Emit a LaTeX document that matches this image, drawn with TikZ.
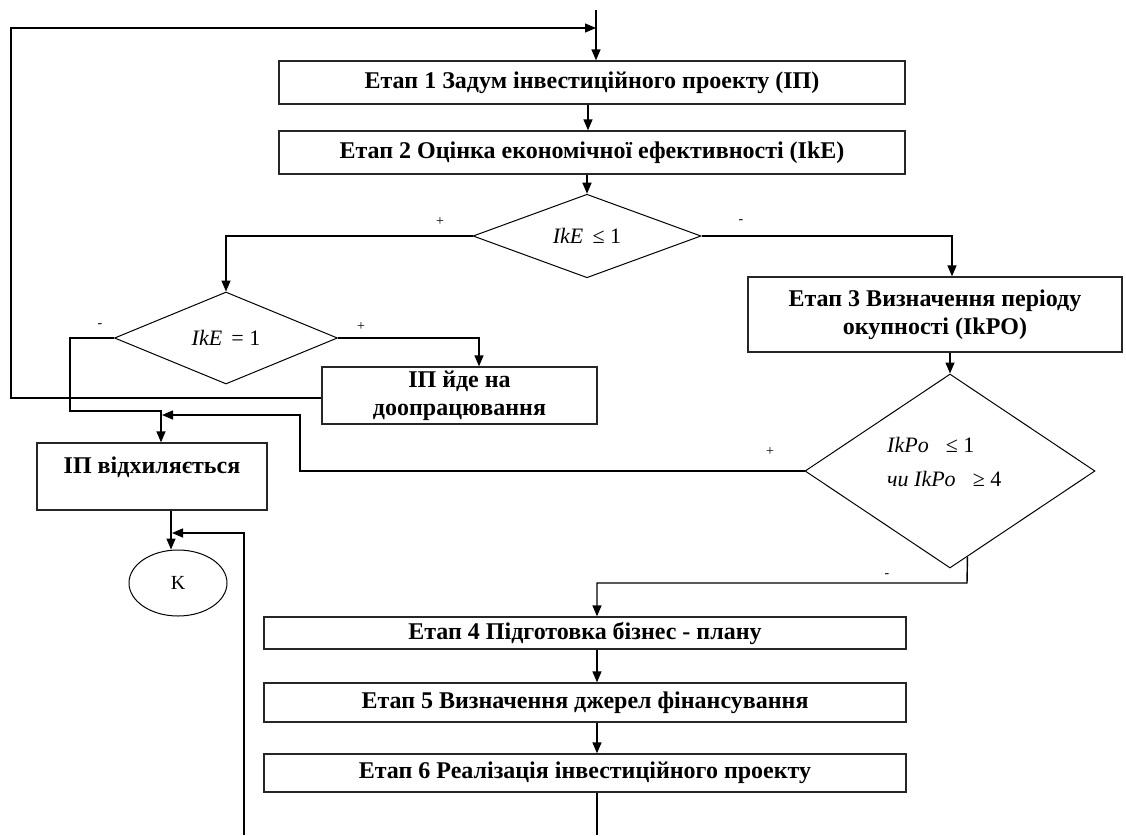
\documentclass[tikz,border=0pt]{standalone}
\usepackage{fontspec}
\setmainfont{Liberation Serif}
\usetikzlibrary{arrows.meta,shapes.geometric,calc}
\begin{document}
\begin{tikzpicture}[x=1pt,y=-1pt,
  box/.style={draw=black!85,line width=1.3pt,rectangle,inner sep=0pt,align=center},
  stagefont/.style={font=\fontsize{24}{27}\selectfont\bfseries},
  bigfont/.style={font=\fontsize{24}{28}\selectfont\bfseries},
  dia/.style={draw,line width=1pt,diamond,inner sep=0pt},
  conn/.style={line width=1.4pt},
  arr/.style={conn,-{Triangle[length=11pt,width=9pt]}},
  lbl/.style={font=\fontsize{14}{14}\selectfont,inner sep=0pt},
  mathfont/.style={font=\fontsize{22}{34}\selectfont}]
\useasboundingbox (0,0) rectangle (1126,835);

% stage boxes
\node[box,stagefont,minimum width=626pt,minimum height=43pt] (b1) at (592,82.5) {Етап 1 Задум інвестиційного проекту (ІП)};
\node[box,stagefont,minimum width=626pt,minimum height=43pt] (b2) at (592,152.5) {Етап 2 Оцінка економічної ефективності (IkE)};
\node[dia,mathfont,minimum width=228pt,minimum height=76pt] (d1) at (587,236) {\textit{IkE} \,≤ 1};
\node[dia,mathfont,minimum width=223pt,minimum height=92pt] (d2) at (226,338) {\textit{IkE} \,= 1};
\node[box,bigfont,minimum width=374pt,minimum height=75pt] (b3) at (935,314.5) {Етап 3 Визначення періоду\\окупності (IkPO)};
\node[box,bigfont,minimum width=275pt,minimum height=57pt] (b7) at (459.5,395.5) {ІП йде на\\доопрацювання};
\node[dia,minimum width=290pt,minimum height=194pt] (d3) at (950,471) {};
\node[mathfont,anchor=west,align=left,inner sep=0pt] (d3t) at (887,462) {\textit{IkPo} \; ≤ 1\\\textit{чи} \textit{IkPo} \; ≥ 4};
\node[box,minimum width=230pt,minimum height=67pt] (brej) at (152,476.5) {};
\node[bigfont,inner sep=0pt] (brejt) at (152,467) {ІП відхиляється};
\node[draw,line width=1pt,ellipse,minimum width=98pt,minimum height=66pt,inner sep=0pt,font=\fontsize{20}{20}\selectfont] (K) at (178,583) {K};
\node[box,stagefont,minimum width=642pt,minimum height=32pt] (b4) at (585,633) {Етап 4 Підготовка бізнес - плану};
\node[box,stagefont,minimum width=642pt,minimum height=39pt] (b5) at (585,702.5) {Етап 5 Визначення джерел фінансування};
\node[box,stagefont,minimum width=642pt,minimum height=38pt] (b6) at (585,773) {Етап 6 Реалізація інвестиційного проекту};

% free-end coordinates
\coordinate (top) at (596,10);
\coordinate (bot6) at (597,835);
\coordinate (botK) at (244,835);

% connectors
\draw[arr] (top) -- (top |- b1.north);
\draw[arr] (b7.west |- 0,398) -- (11,398) -- (11,28) -- (top |- 0,28);
\draw[arr] (b1.south -| 588,0) -- (b2.north -| 588,0);
\draw[arr] (b2.south -| d1.north) -- (d1.north);
\draw[arr] (d1.west) -| (d2.north);
\draw[arr] (d1.east) -| (b3.north -| 952,0);
\draw[arr] (b3.south -| d3.north) -- (d3.north);
\draw[arr] (d2.west) -- (70,338) -- (70,411) -- (161,411) -- (brej.north -| 161,0);
\draw[arr] (d2.east) -| (b7.north -| 479,0);
\draw[arr] (d3.west) -- (300,471) -- (300,415) -- (162,415);
\draw[arr] ($(d3.south)!0.12!(d3.east)$) -- (967,583) -- (597,583) -- (b4.north -| 597,0);
\draw[arr] (brej.south -| 171,0) -- (K.north -| 171,0);
\draw[arr] (botK) -- (244,533) -- (172,533);
\draw[arr] (b4.south -| 597,0) -- (b5.north -| 597,0);
\draw[arr] (b5.south -| 597,0) -- (b6.north -| 597,0);
\draw[conn] (b6.south -| bot6) -- (bot6);

% branch labels
\node[lbl] (l1) at (440,222) {+};
\node[lbl] (l2) at (741,222) {-};
\node[lbl] (l3) at (100,326) {-};
\node[lbl] (l4) at (361,327) {+};
\node[lbl] (l5) at (770,452) {+};
\node[lbl] (l6) at (887,576) {-};
\end{tikzpicture}
\end{document}
